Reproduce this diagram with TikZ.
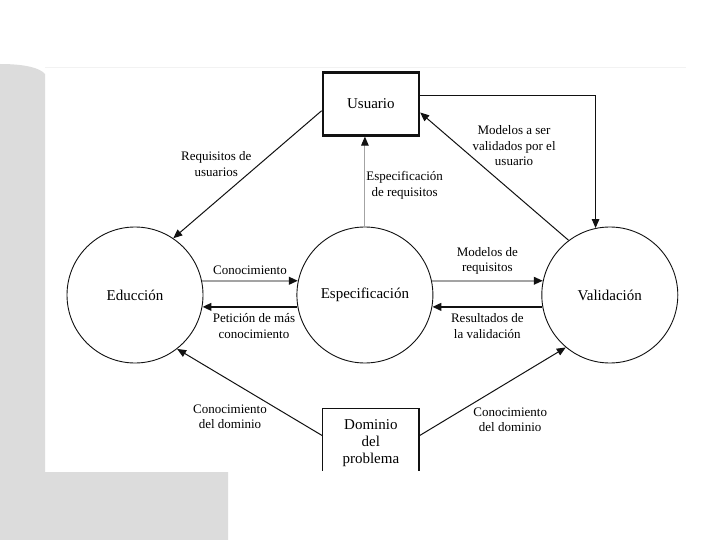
\documentclass[tikz,border=0pt]{standalone}
\usepackage{fontspec}
\setmainfont{Liberation Serif}
\usetikzlibrary{arrows.meta,positioning}
\definecolor{slide}{HTML}{DCDCDC}
\definecolor{ink}{HTML}{111111}
\definecolor{soft}{HTML}{A3A3A3}
\tikzset{proc/.style={draw=ink,line width=.9pt,circle,minimum size=136pt,inner sep=0pt,font=\fontsize{15}{17}\selectfont},
 ent/.style={draw=ink,minimum width=96pt,minimum height=63pt,align=center,font=\fontsize{15}{17}\selectfont},
 lbl/.style={font=\fontsize{13}{15.5}\selectfont,align=center},
 flow/.style={-{Triangle[length=9pt,width=7.5pt]},line width=1pt,draw=ink},
 heavy/.style={-{Triangle[length=9pt,width=7.5pt]},line width=2.6pt,draw=ink},
 pale/.style={-{Triangle[length=9pt,width=7.5pt,color=ink]},line width=2pt,draw=soft}}

\begin{document}
\begin{tikzpicture}[x=1pt,y=-1pt]
\fill[white] (0,0) rectangle (720,540);
\fill[slide] (0,540) -- (0,64) .. controls (25,64) and (40,68) .. (45,74) -- (45,472) -- (228,472) -- (228,540) -- cycle;
\draw[gray!10] (45,67) -- (686,67);
\useasboundingbox (0,0) rectangle (720,540);

\node[proc] (educcion) at (135,295) {Educción};
\node[proc,right=93pt of educcion] (especificacion) {Especificación};
\node[proc,right=108pt of especificacion] (validacion) {Validación};
\node[ent,line width=2.5pt,above=90pt of especificacion,xshift=6pt] (usuario) {Usuario};
\node[ent,draw=none,minimum height=68pt,below=45pt of especificacion,xshift=6pt] (dominio) {Dominio\\del\\problema};
% open box, cut off at the bottom
\draw[line width=1.5pt,ink] ([yshift=6pt]dominio.south west) |- (dominio.north east) -- ([yshift=6pt]dominio.south east);

\draw[flow] (usuario.188) -- node[lbl,pos=.42,left=4pt] (lreq) {Requisitos de\\usuarios} (educcion.56);
\draw[pale,line width=1pt] (especificacion) -- node[lbl,pos=.46,right,inner sep=1pt] (lesp) {Especificación\\de requisitos} (especificacion |- usuario.south);
\draw[flow] (validacion.127) -- node[lbl,pos=.74,right=10pt] (lmod) {Modelos a ser\\validados por el\\usuario} (usuario.-10);
\draw[flow] (usuario.10) -| (validacion.102);

\draw[pale] (educcion.12) -- node[lbl,above=2pt] (lcon) {Conocimiento} (especificacion.168);
\draw[heavy] (especificacion.190) -- node[lbl,below=2pt,xshift=4pt] (lpet) {Petición de más\\conocimiento} (educcion.-10);
\draw[pale] (especificacion.12) -- node[lbl,above=2pt] (lreqm) {Modelos de\\requisitos} (validacion.168);
\draw[heavy] (validacion.190) -- node[lbl,below=2pt] (lres) {Resultados de\\la validación} (especificacion.-10);

\draw[flow] (dominio.172) -- node[lbl,pos=.22,left=20pt] (ldom1) {Conocimiento\\del dominio} (educcion.-52);
\draw[flow] (dominio.8) -- node[lbl,pos=.18,right=24pt] (ldom2) {Conocimiento\\del dominio} (validacion.230);
\end{tikzpicture}
\end{document}
